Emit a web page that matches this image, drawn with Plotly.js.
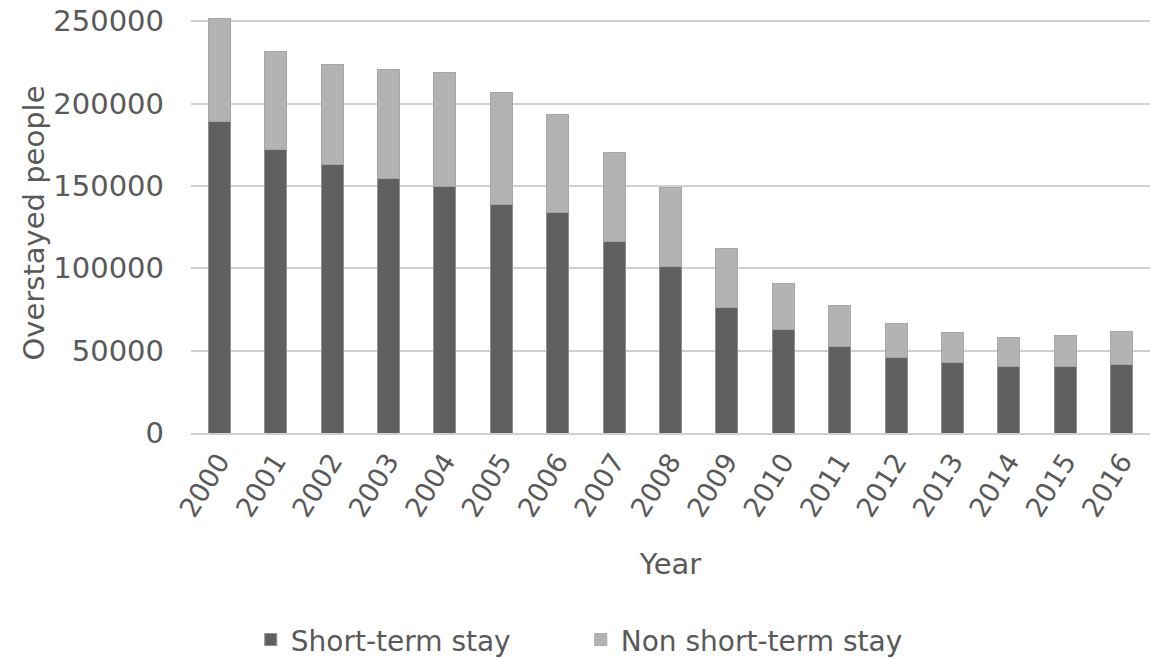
<!DOCTYPE html>
<html>
<head>
<meta charset="utf-8">
<script src="https://cdn.plot.ly/plotly-3.0.1.min.js"></script>
<style>html,body{margin:0;padding:0;background:#fff;}#chart{width:1150px;height:659px;}</style>
</head>
<body>
<div id="chart"></div>
<script>
const years = ["2000","2001","2002","2003","2004","2005","2006","2007","2008","2009","2010","2011","2012","2013","2014","2015","2016"];
const totals = [251500,231500,223700,220500,218900,206700,193200,170100,148800,112200,90500,77500,66400,60750,57700,59300,61700];
const shortTerm = [188900,172300,162800,154700,149800,138500,133650,116000,100800,75900,62600,52600,45600,42900,40100,40100,41500];
const nonShortTerm = totals.map((t, i) => t - shortTerm[i]);
const yTicks = [0,50000,100000,150000,200000,250000];

const font = {family: "DejaVu Sans, sans-serif", color: "#595959"};

const data = [
  {type: "bar", name: "Short-term stay", x: years, y: shortTerm,
   marker: {color: "#606060", line: {color: "#8f8f8f", width: 1}}},
  {type: "bar", name: "Non short-term stay", x: years, y: nonShortTerm,
   marker: {color: "#b3b3b3", line: {color: "#a6a6a6", width: 1}}}
];

const layout = {
  width: 1150, height: 659,
  barmode: "stack", bargap: 0.61,
  paper_bgcolor: "#fff", plot_bgcolor: "#fff",
  margin: {l: 191, r: 0, t: 13, b: 226, autoexpand: false},
  font: Object.assign({size: 28}, font),
  showlegend: true,
  legend: {orientation: "h", x: 0.505, xref: "container", xanchor: "center",
           y: 0.029, yref: "container", yanchor: "middle",
           font: Object.assign({size: 28}, font), traceorder: "normal", itemwidth: 30,
           entrywidth: 285},
  xaxis: {type: "category", tickangle: -58, tickfont: Object.assign({size: 27}, font), automargin: false,
          showgrid: false, showline: true, linecolor: "#d0d0d0", linewidth: 2,
          ticks: "", title: {text: "Year", font: Object.assign({size: 29}, font), standoff: 32}},
  yaxis: {range: [0, 255000], tickvals: yTicks, ticktext: yTicks.map(String), automargin: false,
          tickfont: Object.assign({size: 29}, font), showgrid: true, gridcolor: "#d0d0d0", gridwidth: 2,
          zeroline: false, ticks: "", ticklabelstandoff: 26,
          title: {text: "Overstayed people", font: Object.assign({size: 29}, font), standoff: 0}}
};

Plotly.newPlot("chart", data, layout, {displayModeBar: false, staticPlot: true});
</script>
</body>
</html>
